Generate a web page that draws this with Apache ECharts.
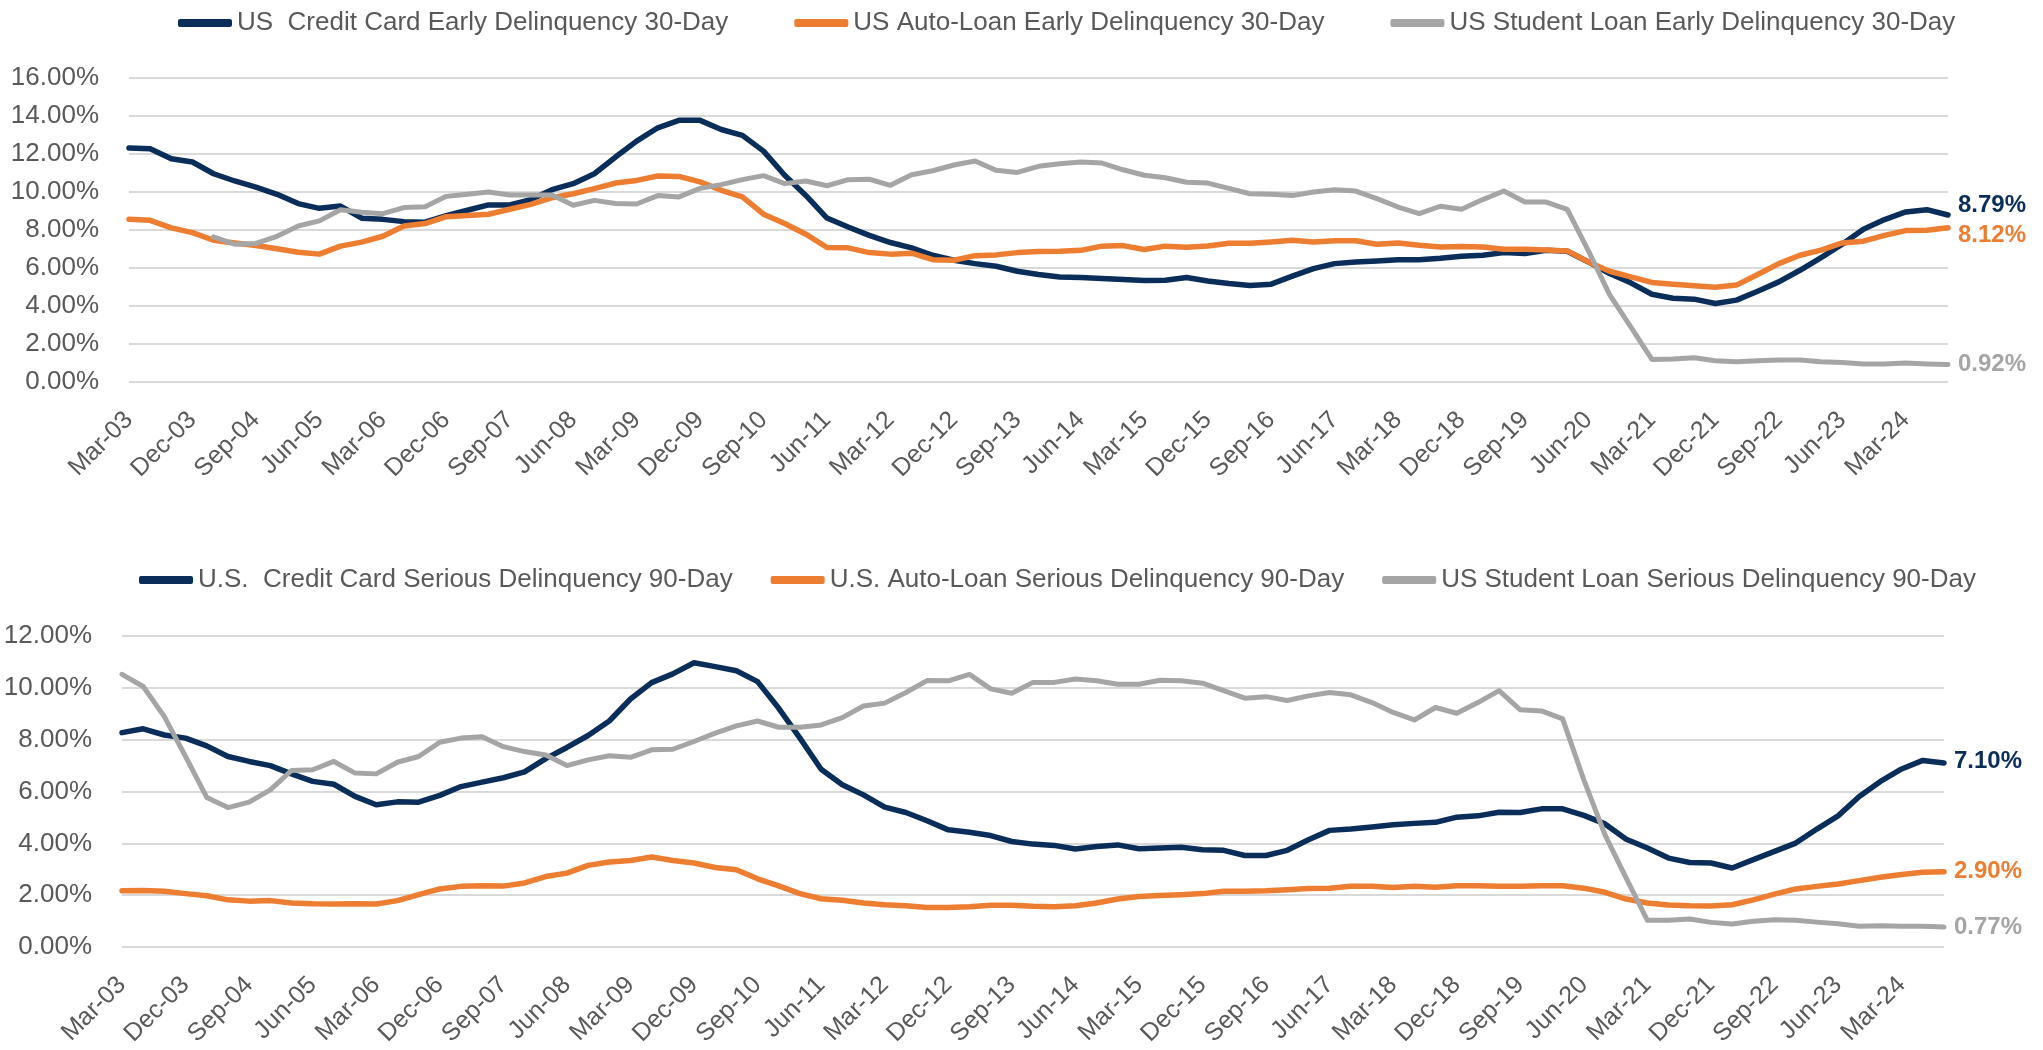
<!DOCTYPE html>
<html><head><meta charset="utf-8">
<script src="https://cdn.jsdelivr.net/npm/echarts@6/dist/echarts.min.js"></script>
<style>html,body{margin:0;padding:0;background:#fff}#c{width:2043px;height:1050px}</style>
</head><body><div id="c"></div><script>
const quarters = [
'Mar-03','Jun-03','Sep-03','Dec-03','Mar-04','Jun-04','Sep-04','Dec-04','Mar-05','Jun-05','Sep-05','Dec-05',
'Mar-06','Jun-06','Sep-06','Dec-06','Mar-07','Jun-07','Sep-07','Dec-07','Mar-08','Jun-08','Sep-08','Dec-08',
'Mar-09','Jun-09','Sep-09','Dec-09','Mar-10','Jun-10','Sep-10','Dec-10','Mar-11','Jun-11','Sep-11','Dec-11',
'Mar-12','Jun-12','Sep-12','Dec-12','Mar-13','Jun-13','Sep-13','Dec-13','Mar-14','Jun-14','Sep-14','Dec-14',
'Mar-15','Jun-15','Sep-15','Dec-15','Mar-16','Jun-16','Sep-16','Dec-16','Mar-17','Jun-17','Sep-17','Dec-17',
'Mar-18','Jun-18','Sep-18','Dec-18','Mar-19','Jun-19','Sep-19','Dec-19','Mar-20','Jun-20','Sep-20','Dec-20',
'Mar-21','Jun-21','Sep-21','Dec-21','Mar-22','Jun-22','Sep-22','Dec-22','Mar-23','Jun-23','Sep-23','Dec-23',
'Mar-24','Jun-24','Sep-24'];

const namesTop = ['US  Credit Card Early Delinquency 30-Day','US Auto-Loan Early Delinquency 30-Day','US Student Loan Early Delinquency 30-Day'];
const namesBottom = ['U.S.  Credit Card Serious Delinquency 90-Day','U.S. Auto-Loan Serious Delinquency 90-Day','US Student Loan Serious Delinquency 90-Day'];

const creditCard30 = [12.31,12.28,11.75,11.58,10.96,10.58,10.26,9.88,9.39,9.14,
9.26,8.62,8.56,8.44,8.41,8.76,9.04,9.32,9.32,9.60,
10.12,10.44,10.96,11.84,12.68,13.38,13.77,13.77,13.29,12.98,
12.15,10.88,9.82,8.63,8.16,7.72,7.34,7.06,6.67,6.41,
6.23,6.09,5.83,5.66,5.53,5.50,5.45,5.39,5.34,5.36,
5.50,5.32,5.18,5.08,5.15,5.57,5.97,6.23,6.32,6.37,
6.44,6.44,6.51,6.62,6.67,6.81,6.76,6.93,6.88,6.32,
5.71,5.22,4.62,4.41,4.36,4.13,4.31,4.78,5.27,5.88,
6.55,7.25,8.04,8.55,8.95,9.07,8.79];

const autoLoan30 = [8.56,8.51,8.11,7.86,7.46,7.32,7.18,7.01,6.83,6.73,
7.15,7.36,7.67,8.21,8.34,8.70,8.76,8.83,9.09,9.35,
9.70,9.91,10.18,10.47,10.61,10.84,10.82,10.53,10.09,9.74,
8.83,8.34,7.78,7.08,7.06,6.81,6.73,6.78,6.44,6.41,
6.65,6.69,6.81,6.87,6.88,6.93,7.15,7.18,6.97,7.15,
7.09,7.16,7.30,7.30,7.37,7.46,7.37,7.44,7.43,7.25,
7.32,7.20,7.11,7.13,7.11,6.99,6.99,6.95,6.90,6.32,
5.83,5.53,5.24,5.15,5.06,4.99,5.10,5.66,6.23,6.67,
6.94,7.32,7.41,7.72,7.97,7.99,8.12];

const studentLoan30 = [null,null,null,null,7.64,7.25,7.29,7.67,8.21,8.48,
9.07,8.93,8.86,9.18,9.23,9.77,9.88,10.00,9.84,9.84,
9.84,9.30,9.56,9.39,9.37,9.81,9.74,10.19,10.39,10.65,
10.86,10.44,10.58,10.33,10.65,10.67,10.35,10.91,11.12,11.42,
11.63,11.14,11.03,11.35,11.49,11.58,11.52,11.17,10.88,10.75,
10.51,10.47,10.19,9.91,9.88,9.81,10.00,10.12,10.05,9.65,
9.21,8.86,9.25,9.09,9.60,10.05,9.47,9.47,9.09,6.90,
4.60,2.90,1.19,1.21,1.28,1.12,1.07,1.12,1.16,1.16,
1.07,1.03,0.95,0.95,1.00,0.95,0.92];

const creditCard90 = [8.27,8.42,8.18,8.06,7.76,7.35,7.16,7.00,6.68,6.39,
6.28,5.81,5.49,5.60,5.59,5.85,6.19,6.36,6.53,6.76,
7.27,7.70,8.16,8.72,9.57,10.20,10.54,10.97,10.82,10.66,
10.24,9.21,8.06,6.86,6.26,5.87,5.40,5.19,4.87,4.52,
4.43,4.30,4.07,3.97,3.92,3.78,3.88,3.94,3.79,3.82,
3.85,3.75,3.73,3.53,3.53,3.73,4.14,4.50,4.55,4.63,
4.72,4.77,4.81,5.01,5.06,5.20,5.19,5.33,5.33,5.08,
4.75,4.16,3.82,3.43,3.26,3.24,3.05,3.37,3.69,4.01,
4.55,5.06,5.81,6.39,6.87,7.20,7.10];

const autoLoan90 = [2.17,2.18,2.15,2.06,1.98,1.82,1.77,1.79,1.70,1.67,
1.66,1.67,1.66,1.79,2.02,2.24,2.34,2.36,2.35,2.47,
2.72,2.85,3.15,3.28,3.34,3.47,3.34,3.24,3.07,2.98,
2.63,2.36,2.06,1.86,1.80,1.70,1.63,1.59,1.52,1.52,
1.55,1.61,1.61,1.57,1.55,1.59,1.70,1.85,1.95,1.99,
2.02,2.06,2.15,2.15,2.17,2.21,2.26,2.27,2.34,2.34,
2.30,2.34,2.31,2.36,2.36,2.34,2.34,2.36,2.36,2.27,
2.11,1.85,1.70,1.62,1.59,1.58,1.63,1.82,2.04,2.24,
2.34,2.43,2.56,2.69,2.80,2.88,2.90];

const studentLoan90 = [10.52,10.05,8.89,7.35,5.77,5.38,5.59,6.06,6.81,6.84,
7.16,6.71,6.68,7.13,7.35,7.90,8.06,8.11,7.73,7.54,
7.41,7.00,7.22,7.38,7.32,7.61,7.63,7.93,8.25,8.53,
8.72,8.48,8.48,8.57,8.85,9.30,9.41,9.82,10.28,10.27,
10.52,9.96,9.79,10.21,10.21,10.34,10.27,10.14,10.14,10.29,
10.27,10.18,9.89,9.60,9.66,9.51,9.69,9.82,9.73,9.43,
9.05,8.76,9.24,9.02,9.43,9.89,9.15,9.11,8.80,6.45,
4.33,2.66,1.03,1.03,1.08,0.95,0.89,0.99,1.05,1.03,
0.96,0.90,0.80,0.82,0.80,0.80,0.77];

const NAVY = '#0B2D59', ORANGE = '#ED7D31', GRAY = '#A5A5A5', TEXT = '#595959', GRID = '#D9D9D9';
const FONT = '"Liberation Sans", Arial, Helvetica, sans-serif';

function mk(name, data, color, gi, off, w) {
  return {
    name, type: 'line', xAxisIndex: gi, yAxisIndex: gi, data,
    symbol: 'none', connectNulls: false, animation: false,
    lineStyle: { color, width: w, cap: 'round', join: 'round' },
    itemStyle: { color },
    endLabel: { show: true, formatter: p => p.value.toFixed(2) + '%', color, fontSize: 24,
      fontWeight: 'bold', fontFamily: FONT, distance: 10, offset: off }
  };
}

function xAx(gi) {
  return {
    type: 'category', gridIndex: gi, data: quarters, boundaryGap: false,
    axisLine: { show: false }, axisTick: { show: false }, splitLine: { show: false },
    axisLabel: { interval: 2, rotate: 45, color: TEXT, fontSize: 25, fontFamily: FONT, margin: 34 }
  };
}
function yAx(gi, max) {
  return {
    type: 'value', gridIndex: gi, min: 0, max, interval: 2,
    axisLine: { show: false }, axisTick: { show: false },
    splitLine: { lineStyle: { color: GRID, width: 2 } },
    axisLabel: { color: TEXT, fontSize: 26, fontFamily: FONT, margin: 30,
      formatter: v => v.toFixed(2) + '%' }
  };
}

const chart = echarts.init(document.getElementById('c'), null, { renderer: 'canvas' });
chart.setOption({
  animation: false,
  backgroundColor: '#fff',
  textStyle: { fontFamily: FONT },
  legend: [
    { data: namesTop, left: 173, top: 5, itemGap: 66, itemWidth: 54, itemHeight: 8, icon: 'roundRect',
      textStyle: { color: TEXT, fontSize: 26, fontFamily: FONT } },
    { data: namesBottom, left: 134, top: 562, itemGap: 38, itemWidth: 54, itemHeight: 8, icon: 'roundRect',
      textStyle: { color: TEXT, fontSize: 26, fontFamily: FONT } }
  ],
  grid: [
    { left: 129, top: 78, width: 1819, height: 304 },
    { left: 122, top: 636, width: 1822, height: 311 }
  ],
  xAxis: [xAx(0), xAx(1)],
  yAxis: [yAx(0, 16), yAx(1, 12)],
  series: [
    mk(namesTop[0], creditCard30, NAVY, 0, [0, -10], 5.5),
    mk(namesTop[1], autoLoan30, ORANGE, 0, [0, 8], 5.5),
    mk(namesTop[2], studentLoan30, GRAY, 0, [0, 0], 5),
    mk(namesBottom[0], creditCard90, NAVY, 1, [0, -2], 5.5),
    mk(namesBottom[1], autoLoan90, ORANGE, 1, [0, 0], 5.5),
    mk(namesBottom[2], studentLoan90, GRAY, 1, [0, 0], 5)
  ]
});
</script></body></html>
